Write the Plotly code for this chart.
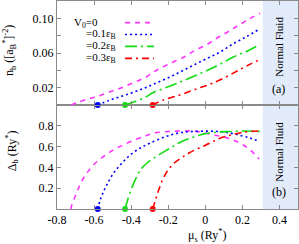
import plotly.graph_objects as go

# ---------------- data ----------------
labels = ["V<sub>0</sub>=0", "=0.1ε<sub>B</sub>", "=0.2ε<sub>B</sub>", "=0.3ε<sub>B</sub>"]

# top panel: n_b vs mu_s
mu_n0 = [-0.725, -0.64, -0.577, -0.514, -0.451, -0.388, -0.325, -0.28, -0.227, -0.173, -0.11, -0.056, 0.007, 0.061, 0.118, 0.172, 0.226, 0.295]
n0 = [0, 0.0065, 0.0103, 0.0153, 0.020, 0.0256, 0.0317, 0.038, 0.044, 0.0496, 0.056, 0.063, 0.0695, 0.077, 0.084, 0.091, 0.098, 0.106]
mu_n1 = [-0.58, -0.523, -0.46, -0.397, -0.334, -0.28, -0.208, -0.137, -0.065, 0.007, 0.079, 0.151, 0.223, 0.295]
n1 = [0, 0.005, 0.0095, 0.014, 0.019, 0.024, 0.0306, 0.038, 0.0458, 0.0535, 0.061, 0.0707, 0.079, 0.088]
mu_n2 = [-0.433, -0.379, -0.325, -0.28, -0.19, -0.118, -0.028, 0.061, 0.151, 0.241, 0.295]
n2 = [0, 0.004, 0.0088, 0.0145, 0.0218, 0.028, 0.0363, 0.045, 0.0553, 0.0638, 0.070]
mu_n3 = [-0.286, -0.227, -0.137, -0.056, 0.025, 0.106, 0.187, 0.241, 0.295]
n3 = [0, 0.0057, 0.0115, 0.018, 0.024, 0.0317, 0.041, 0.047, 0.0525]

# bottom panel: Delta_b vs mu_s
mu_d0 = [-0.725, -0.72, -0.699, -0.672, -0.640, -0.60, -0.55, -0.496, -0.442, -0.379, -0.322, -0.277, -0.2, -0.127, -0.065, 0.0, 0.061, 0.124, 0.187, 0.241, 0.29]
d0 = [0, 0.04, 0.135, 0.248, 0.344, 0.43, 0.504, 0.568, 0.617, 0.666, 0.704, 0.73, 0.745, 0.75, 0.75, 0.73, 0.707, 0.68, 0.633, 0.569, 0.48]
mu_d1 = [-0.58, -0.567, -0.549, -0.527, -0.495, -0.455, -0.405, -0.351, -0.297, -0.223, -0.17, -0.116, -0.062, 0.01, 0.073, 0.136, 0.19, 0.244, 0.285]
d1 = [0, 0.087, 0.167, 0.247, 0.344, 0.43, 0.52, 0.586, 0.635, 0.69, 0.72, 0.739, 0.745, 0.749, 0.745, 0.73, 0.707, 0.681, 0.655]
mu_d2 = [-0.433, -0.419, -0.394, -0.370, -0.343, -0.316, -0.28, -0.235, -0.19, -0.137, -0.083, -0.011, 0.061, 0.133, 0.205, 0.295]
d2 = [0, 0.087, 0.215, 0.311, 0.392, 0.44, 0.487, 0.537, 0.585, 0.64, 0.68, 0.72, 0.739, 0.745, 0.75, 0.745]
mu_d3 = [-0.284, -0.266, -0.248, -0.227, -0.2, -0.169, -0.127, -0.083, -0.028, 0.025, 0.079, 0.142, 0.205, 0.295]
d3 = [0, 0.103, 0.2, 0.296, 0.376, 0.44, 0.494, 0.543, 0.591, 0.633, 0.681, 0.713, 0.739, 0.75]

# onset points (marked with dots)
mu_onset = [-0.58, -0.433, -0.284]
y_onset = [0, 0, 0]
onset_colors = ["#0000FF", "#11DD11", "#FF0000"]

normal_fluid_start = 0.31
x_range = [-0.8, 0.5]
x_ticks = [-0.8, -0.6, -0.4, -0.2, 0, 0.2, 0.4]
x_ticktext = ["-0.8", "-0.6", "-0.4", "-0.2", "0", "0.2", "0.4"]
n_ticks = [0, 0.02, 0.04, 0.06, 0.08, 0.10, 0.12]
n_ticktext = ["", "0.02", "", "0.06", "", "0.10", ""]
d_ticks = [0, 0.2, 0.4, 0.6, 0.8, 1.0]
d_ticktext = ["", "0.2", "0.4", "0.6", "0.8", ""]

# ---------------- styles ----------------
colors = ["#FF33FF", "#0000FF", "#11DD11", "#FF0000"]
dashes = ["5px,5px", "2px,3px", "12px,4px,2px,4px", "7px,4px,2px,4px"]
FONT = "Liberation Serif, Times New Roman, serif"
AX = "#8a8a8a"

fig = go.Figure()

top = [(mu_n0, n0), (mu_n1, n1), (mu_n2, n2), (mu_n3, n3)]
bot = [(mu_d0, d0), (mu_d1, d1), (mu_d2, d2), (mu_d3, d3)]
for i, (xs, ys) in enumerate(top):
    fig.add_trace(go.Scatter(x=xs, y=ys, mode="lines", line=dict(color=colors[i], width=1.6, dash=dashes[i], shape="spline"),
                             xaxis="x2", yaxis="y2", showlegend=False))
for i, (xs, ys) in enumerate(bot):
    fig.add_trace(go.Scatter(x=xs, y=ys, mode="lines", line=dict(color=colors[i], width=1.6, dash=dashes[i], shape="spline"),
                             xaxis="x", yaxis="y", showlegend=False))
for xa, ya in [("x", "y"), ("x2", "y2")]:
    fig.add_trace(go.Scatter(x=mu_onset, y=y_onset, mode="markers", marker=dict(color=onset_colors, size=6),
                             xaxis=xa, yaxis=ya, cliponaxis=False, showlegend=False))

# Normal fluid shading
fig.add_shape(type="rect", xref="x", yref="paper", x0=normal_fluid_start, x1=x_range[1], y0=0, y1=1,
              fillcolor="#E2EBF9", line_width=0, layer="below")

ann = []
# legend (manual)
leg_y = [0.095, 0.0814, 0.0676, 0.0538]
leg_xtext = [-0.719, -0.654, -0.654, -0.654]
for i in range(4):
    ann.append(dict(x=leg_xtext[i], y=leg_y[i], xref="x2", yref="y2", text=labels[i], showarrow=False,
                    xanchor="left", yanchor="middle", font=dict(family=FONT, size=11, color="black")))
    fig.add_shape(type="line", xref="x2", yref="y2", x0=-0.433, x1=-0.277, y0=leg_y[i], y1=leg_y[i],
                  line=dict(color=colors[i], width=1.6, dash=dashes[i]))

for yc, lab_y, lab in [(0.78, 0.575, "(a)"), (0.275, 0.08, "(b)")]:
    ann.append(dict(x=0.397, y=yc, xref="x", yref="paper", text="Normal Fluid", textangle=-90, showarrow=False,
                    xanchor="center", yanchor="middle", font=dict(family=FONT, size=11, color="black")))
    ann.append(dict(x=0.397, y=lab_y, xref="x", yref="paper", text=lab, showarrow=False,
                    xanchor="center", yanchor="middle", font=dict(family=FONT, size=12, color="black")))

# axis titles
ann.append(dict(x=-0.195, y=0.76, xref="paper", yref="paper", text="n<sub>b</sub> ([a<sub>B</sub><sup>*</sup>]<sup>-2</sup>)",
                textangle=-90, showarrow=False, xanchor="center", yanchor="middle",
                font=dict(family=FONT, size=12, color="black")))
ann.append(dict(x=-0.185, y=0.28, xref="paper", yref="paper", text="Δ<sub>b</sub> (Ry<sup>*</sup>)",
                textangle=-90, showarrow=False, xanchor="center", yanchor="middle",
                font=dict(family=FONT, size=12, color="black")))
ann.append(dict(x=0.01, y=-0.125, xref="x", yref="paper", text="μ<sub>s</sub> (Ry<sup>*</sup>)",
                showarrow=False, xanchor="center", yanchor="middle", font=dict(family=FONT, size=12, color="black")))

axis_common = dict(showline=True, linecolor=AX, linewidth=1, mirror="allticks", ticks="inside", ticklen=4,
                   tickcolor=AX, showgrid=False, zeroline=False, tickfont=dict(family=FONT, size=12, color="black"))

fig.update_layout(
    width=299, height=244, margin=dict(l=57, r=1, t=1, b=35),
    paper_bgcolor="white", plot_bgcolor="rgba(0,0,0,0)",
    xaxis=dict(domain=[0, 1], range=x_range, tickvals=x_ticks, ticktext=x_ticktext, anchor="y", **axis_common),
    xaxis2=dict(domain=[0, 1], range=x_range, tickvals=x_ticks, showticklabels=False, anchor="y2", **axis_common),
    yaxis=dict(domain=[0, 0.5], range=[0, 1.0], tickvals=d_ticks, ticktext=d_ticktext, anchor="x", **axis_common),
    yaxis2=dict(domain=[0.5, 1], range=[0, 0.12], tickvals=n_ticks, ticktext=n_ticktext, anchor="x2", **axis_common),
    annotations=ann, showlegend=False,
)

fig.write_html("out.html", config={"displayModeBar": False},
               post_script="document.body.style.margin='0';document.body.style.overflow='hidden';")
